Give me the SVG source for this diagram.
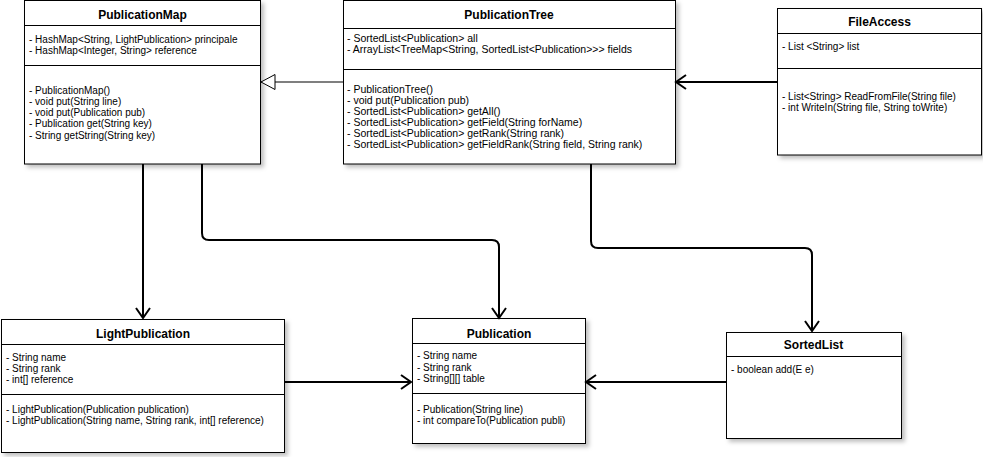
<svg xmlns="http://www.w3.org/2000/svg" width="983" height="457" viewBox="0 0 983 457">
<style>
.box{fill:#fff;stroke:#000;stroke-width:1;filter:url(#sh)}
.div{stroke:#000;stroke-width:1;fill:none}
.t{font-family:"Liberation Sans",Arial,sans-serif;font-size:12px;font-weight:bold;text-anchor:middle;fill:#000}
.m{font-family:"Liberation Sans",Arial,sans-serif;font-size:10px;fill:#000}
.m2{font-family:"Liberation Sans",Arial,sans-serif;font-size:10.5px;fill:#000}
.c{fill:none;stroke:#000;stroke-width:2}
.ci{fill:none;stroke:#000;stroke-width:1.2}
</style>
<defs>
<filter id="sh" x="-10%" y="-10%" width="130%" height="130%">
<feDropShadow dx="3" dy="3" stdDeviation="2" flood-color="#000" flood-opacity="0.25"/>
</filter>
<marker id="open" markerUnits="userSpaceOnUse" markerWidth="14" markerHeight="18" refX="11" refY="8" orient="auto">
<path d="M1,1 L11,8 L1,15" fill="none" stroke="#000" stroke-width="2"/>
</marker>
<marker id="inh" markerUnits="userSpaceOnUse" markerWidth="18" markerHeight="20" refX="16" refY="9" orient="auto">
<path d="M2,1.5 L16,9 L2,16.5 Z" fill="#fff" stroke="#000" stroke-width="1"/>
</marker>
</defs>

<g id="PublicationMap">
<rect class="box" x="24.5" y="0.5" width="236" height="163.5"/>
<line class="div" x1="24.5" y1="25.5" x2="260.5" y2="25.5"/>
<line class="div" x1="24.5" y1="65.5" x2="260.5" y2="65.5"/>
<text class="t" x="142.5" y="18.5">PublicationMap</text>
<text class="m" x="29" y="42.5">- HashMap&lt;String, LightPublication&gt; principale</text>
<text class="m" x="29" y="53.8">- HashMap&lt;Integer, String&gt; reference</text>
<text class="m" x="29" y="93.5">- PublicationMap()</text>
<text class="m" x="29" y="104.8">- void put(String line)</text>
<text class="m" x="29" y="116.1">- void put(Publication pub)</text>
<text class="m" x="29" y="127.4">- Publication get(String key)</text>
<text class="m" x="29" y="138.7">- String getString(String key)</text>
</g>

<g id="PublicationTree">
<rect class="box" x="343.5" y="0.5" width="332" height="163.5"/>
<line class="div" x1="343.5" y1="28.5" x2="675.5" y2="28.5"/>
<line class="div" x1="343.5" y1="69.5" x2="675.5" y2="69.5"/>
<text class="t" x="509" y="18.5">PublicationTree</text>
<text class="m2" x="347" y="42">- SortedList&lt;Publication&gt; all</text>
<text class="m2" x="347" y="53">- ArrayList&lt;TreeMap&lt;String, SortedList&lt;Publication&gt;&gt;&gt; fields</text>
<text class="m2" x="347" y="93">- PublicationTree()</text>
<text class="m2" x="347" y="104">- void put(Publication pub)</text>
<text class="m2" x="347" y="115">- SortedList&lt;Publication&gt; getAll()</text>
<text class="m2" x="347" y="126">- SortedList&lt;Publication&gt; getField(String forName)</text>
<text class="m2" x="347" y="137">- SortedList&lt;Publication&gt; getRank(String rank)</text>
<text class="m2" x="347" y="148">- SortedList&lt;Publication&gt; getFieldRank(String field, String rank)</text>
</g>

<g id="FileAccess">
<rect class="box" x="777.5" y="8.5" width="204" height="146.5"/>
<line class="div" x1="777.5" y1="33.5" x2="981.5" y2="33.5"/>
<line class="div" x1="777.5" y1="68.5" x2="981.5" y2="68.5"/>
<text class="t" x="879.5" y="25.5">FileAccess</text>
<text class="m" x="782" y="49.5">- List &lt;String&gt; list</text>
<text class="m" x="782" y="99.5">- List&lt;String&gt; ReadFromFile(String file)</text>
<text class="m" x="782" y="110.5">- int WriteIn(String file, String toWrite)</text>
</g>

<g id="LightPublication">
<rect class="box" x="1.5" y="319.5" width="283" height="133"/>
<line class="div" x1="1.5" y1="344.5" x2="284.5" y2="344.5"/>
<line class="div" x1="1.5" y1="394.5" x2="284.5" y2="394.5"/>
<text class="t" x="143" y="337.5">LightPublication</text>
<text class="m" x="6" y="360.5">- String name</text>
<text class="m" x="6" y="371.5">- String rank</text>
<text class="m" x="6" y="382.5">- int[] reference</text>
<text class="m" x="6" y="412.5">- LightPublication(Publication publication)</text>
<text class="m" x="6" y="423.5">- LightPublication(String name, String rank, int[] reference)</text>
</g>

<g id="Publication">
<rect class="box" x="412.5" y="318.5" width="173" height="125"/>
<line class="div" x1="412.5" y1="343.5" x2="585.5" y2="343.5"/>
<line class="div" x1="412.5" y1="393.5" x2="585.5" y2="393.5"/>
<text class="t" x="499" y="337.5">Publication</text>
<text class="m" x="417" y="359">- String name</text>
<text class="m" x="417" y="370.5">- String rank</text>
<text class="m" x="417" y="382">- String[][] table</text>
<text class="m" x="417" y="412.5">- Publication(String line)</text>
<text class="m" x="417" y="423.5">- int compareTo(Publication publi)</text>
</g>

<g id="SortedList">
<rect class="box" x="726.5" y="332.5" width="175" height="106"/>
<line class="div" x1="726.5" y1="356.5" x2="901.5" y2="356.5"/>
<text class="t" x="813.5" y="348.5">SortedList</text>
<text class="m" x="731" y="372.5">- boolean add(E e)</text>
</g>

<g id="connectors">
<path class="ci" d="M343,82 H261" marker-end="url(#inh)"/>
<path class="c" d="M777,82 H676" marker-end="url(#open)"/>
<path class="c" d="M143,164 V318" marker-end="url(#open)"/>
<path class="c" d="M202,164 V233 Q202,240 209,240 H492 Q499,240 499,247 V318" marker-end="url(#open)"/>
<path class="c" d="M591,164 V241 Q591,248 598,248 H805 Q812,248 812,255 V331" marker-end="url(#open)"/>
<path class="c" d="M285,382 H411" marker-end="url(#open)"/>
<path class="c" d="M726,382 H586" marker-end="url(#open)"/>
</g>
</svg>
